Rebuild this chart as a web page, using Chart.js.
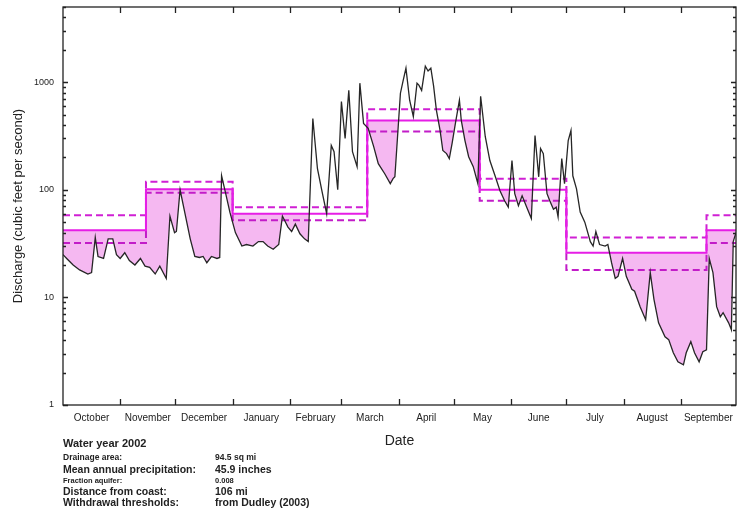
<!DOCTYPE html>
<html>
<head>
<meta charset="utf-8">
<script src="https://cdn.jsdelivr.net/npm/chart.js@4.4.1/dist/chart.umd.min.js"></script>
<style>
  body { margin: 0; background: #fff; font-family: "Liberation Sans", Arial, sans-serif; color: #222; }
  #wrap { position: relative; width: 739px; height: 521px; }
  .info { position: absolute; font-weight: bold; white-space: nowrap; line-height: 1; }
</style>
</head>
<body>
<div id="wrap">
  <canvas id="grafico" width="739" height="521"></canvas>
  <div class="info" style="left:63px;top:438px;font-size:11px;">Water year 2002</div>
  <div class="info" style="left:63px;top:453px;font-size:8.5px;">Drainage area:</div>
  <div class="info" style="left:215px;top:453px;font-size:8.5px;">94.5 sq mi</div>
  <div class="info" style="left:63px;top:464px;font-size:10.5px;">Mean annual precipitation:</div>
  <div class="info" style="left:215px;top:464px;font-size:10.5px;">45.9 inches</div>
  <div class="info" style="left:63px;top:477px;font-size:7.5px;">Fraction aquifer:</div>
  <div class="info" style="left:215px;top:477px;font-size:7.5px;">0.008</div>
  <div class="info" style="left:63px;top:486px;font-size:10.5px;">Distance from coast:</div>
  <div class="info" style="left:215px;top:486px;font-size:10.5px;">106 mi</div>
  <div class="info" style="left:63px;top:497px;font-size:10.5px;">Withdrawal thresholds:</div>
  <div class="info" style="left:215px;top:497px;font-size:10.5px;">from Dudley (2003)</div>
</div>
<script>
// vazao diaria (dia do ano hidrologico, a partir de 1 de outubro)
const dias = [0, 2, 5.5, 9, 13.5, 15.5, 17.5, 19, 22, 24.5, 27, 29, 31, 33.5, 36, 39, 42, 44.5, 47, 50, 52.5, 56,
  58, 60.5, 61.5, 63.5, 66, 69, 71.5, 74, 76, 78, 80.5, 83.5, 85, 86, 88, 90.5, 93.5, 97, 99.5, 103, 106, 108.5,
  111, 114, 117, 119, 122, 124, 126, 128.5, 131, 133, 135.5, 138, 140.5, 143, 145.5, 147, 149, 151, 153, 155,
  157, 159.5, 161, 163, 165.5, 168.5, 171, 174.5, 177.5, 179, 180, 183, 184.5, 186, 188, 190, 192, 193, 194.5,
  196.5, 198, 199.5, 201, 202.5, 204.5, 206, 208, 209.5, 211, 213, 215, 216, 218, 220, 222.5, 225, 226.5, 229,
  231.5, 234.5, 237, 239.5, 241.5, 243.5, 245, 247, 249, 251.5, 254, 256, 258, 259, 260.5, 262.5, 264, 266, 267.5,
  268.5, 270.5, 272, 274, 275.5, 276.5, 278.5, 280.5, 283, 286, 287.5, 289, 291, 294, 295.5, 297.5, 299.5, 301,
  303.5, 305.5, 308.5, 310, 313, 316, 318.5, 320.5, 323, 326.5, 328.5, 331, 333.5, 336.5, 338, 340.5, 342.5, 345,
  347, 349, 350.5, 352.5, 354.5, 356.5, 358, 361, 362.5, 363.5, 365];
const vazao = [25, 23, 20, 18, 16.5, 17, 36, 24, 23, 35, 35, 25, 23, 26, 22, 20, 23, 19.5, 19, 16.5, 19.5, 15,
  57, 40, 41, 100, 62, 35, 24, 23.5, 24, 21, 24, 23, 23.5, 135, 96, 62, 40, 30, 31, 30, 33, 33,
  30, 28, 31, 57, 45, 41, 48, 39, 35, 33, 460, 157, 96, 60, 258, 226, 100, 660, 300, 840,
  226, 164, 980, 414, 372, 252, 175, 141, 114, 127, 132, 790, 1040, 1350, 680, 480, 980, 940, 840,
  1410, 1270, 1350, 920, 550, 356, 232, 217, 195, 269, 432, 680, 442, 287, 203, 164, 114, 740, 313,
  187, 132, 98, 79, 69, 187, 92, 71, 88, 69, 54, 320, 132, 242, 217, 92, 79, 66, 69,
  56, 195, 114, 287, 356, 135, 102, 62, 50, 33, 30, 41, 31, 30, 31, 21, 15, 15.7,
  23, 15.7, 11.9, 11.4, 8.2, 6.2, 17, 9.6, 5.8, 4.3, 4.05, 3.06, 2.52, 2.36, 3.06, 3.88, 3.06, 2.52,
  3.13, 3.26, 23, 17, 8.2, 6.6, 7.2, 5.8, 5.0, 33, 40];

// limites de retirada por periodo (inicio do periodo em dias)
const inicioPeriodo = [0, 45, 92, 165, 226, 273, 349, 365];
const limiteMediano = [42, 101, 60, 441, 100, 26, 42, 42];
const limiteSuperior = [58, 119, 69, 560, 127, 36, 58, 58];
const limiteInferior = [32, 94, 52, 348, 79, 18, 32, 32];

const meses = ['October', 'November', 'December', 'January', 'February', 'March', 'April', 'May', 'June', 'July', 'August', 'September'];
const limitesMes = [0, 31, 61, 92, 123, 151, 182, 212, 243, 273, 304, 335, 365];
const ticksY = [1, 10, 100, 1000];

const pontos = (xs, ys) => xs.map((x, i) => ({ x, y: ys[i] }));

// moldura com marcas para dentro, como no original
const moldura = {
  id: 'moldura',
  afterDraw(chart) {
    const { ctx, chartArea: a, scales: { x, y } } = chart;
    ctx.save();
    ctx.strokeStyle = '#222';
    ctx.lineWidth = 1.3;
    ctx.strokeRect(a.left, a.top, a.right - a.left, a.bottom - a.top);
    ctx.beginPath();
    limitesMes.slice(1, -1).forEach(d => {
      const px = Math.round(x.getPixelForValue(d)) + 0.5;
      ctx.moveTo(px, a.bottom); ctx.lineTo(px, a.bottom - 6);
      ctx.moveTo(px, a.top); ctx.lineTo(px, a.top + 6);
    });
    for (let dec = 1; dec <= 1000; dec *= 10) {
      for (let m = 1; m <= 9; m++) {
        const v = dec * m;
        if (v > 5000) break;
        const py = Math.round(y.getPixelForValue(v)) + 0.5;
        const len = m === 1 ? 5 : 3;
        ctx.moveTo(a.left, py); ctx.lineTo(a.left + len, py);
        ctx.moveTo(a.right, py); ctx.lineTo(a.right - len, py);
      }
    }
    ctx.stroke();
    ctx.restore();
  }
};

new Chart(document.getElementById('grafico'), {
  type: 'line',
  data: {
    datasets: [
      {
        data: pontos(dias, vazao),
        borderColor: '#262626',
        borderWidth: 1.3,
        fill: { target: 1, above: 'rgba(0,0,0,0)', below: '#f5b8f1' }
      },
      { data: pontos(inicioPeriodo, limiteMediano), stepped: true, borderColor: '#e61ee6', borderWidth: 2 },
      { data: pontos(inicioPeriodo, limiteSuperior), stepped: true, borderColor: '#d020d4', borderWidth: 2, borderDash: [7, 4] },
      { data: pontos(inicioPeriodo, limiteInferior), stepped: true, borderColor: '#c21cc8', borderWidth: 2, borderDash: [7, 4] }
    ]
  },
  options: {
    responsive: false,
    animation: false,
    layout: { padding: { top: 7, right: 3, left: 0, bottom: 0 } },
    elements: { point: { radius: 0 }, line: { tension: 0 } },
    plugins: {
      legend: { display: false },
      tooltip: { enabled: false },
      filler: { drawTime: 'beforeDatasetsDraw' }
    },
    scales: {
      x: {
        type: 'linear', min: 0, max: 365,
        grid: { display: false, drawTicks: false },
        border: { display: false },
        afterBuildTicks: s => { s.ticks = meses.map((m, i) => ({ value: (limitesMes[i] + limitesMes[i + 1]) / 2 })); },
        afterFit: s => { s.height = 116; s.paddingLeft = 0; s.paddingRight = 0; },
        ticks: {
          autoSkip: false, maxRotation: 0, padding: 7, color: '#222',
          font: { family: 'Liberation Sans', size: 10 },
          callback: (v, i) => meses[i]
        },
        title: {
          display: true, text: 'Date', color: '#222',
          font: { family: 'Liberation Sans', size: 14 },
          padding: { top: 0, bottom: 71 }
        }
      },
      y: {
        type: 'logarithmic', min: 1, max: 5000,
        grid: { display: false, drawTicks: false },
        border: { display: false },
        afterBuildTicks: s => { s.ticks = ticksY.map(v => ({ value: v })); },
        afterFit: s => { s.width = 63; s.paddingTop = 0; s.paddingBottom = 0; },
        ticks: {
          padding: 9, color: '#222',
          font: { family: 'Liberation Sans', size: 9 },
          callback: v => String(v)
        },
        title: {
          display: true, text: 'Discharge (cubic feet per second)', color: '#222',
          font: { family: 'Liberation Sans', size: 13 },
          padding: { top: 11, bottom: 0 }
        }
      }
    }
  },
  plugins: [moldura]
});
</script>
</body>
</html>
